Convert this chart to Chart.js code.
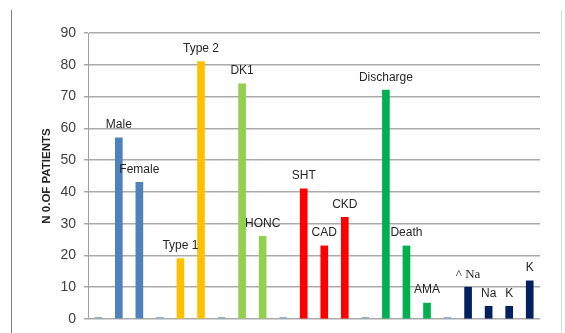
<!DOCTYPE html>
<html lang="en">
<head>
    <meta charset="UTF-8">
    <title>N 0.OF PATIENTS</title>
    <script src="https://cdn.jsdelivr.net/npm/chart.js"></script>
    <style>
        body { margin: 0; background: #fff; }
        .frame { position: relative; width: 565px; height: 333px; }
        .frame:before { content: ''; position: absolute; left: 11px; top: 10px; bottom: 0; border-left: 1px solid #7f7f7f; }
        .frame:after { content: ''; position: absolute; left: 561px; top: 10px; bottom: 0; border-left: 1px solid #d9d9d9; }
        canvas { position: absolute; left: 0; top: 0; }
    </style>
</head>
<body>
    <div class="frame">
        <canvas id="chart" width="565" height="333"></canvas>
    </div>
    <script>
        // categories (empty ones are the separators between groups)
        const categories = ['', 'Male', 'Female', '', 'Type 1', 'Type 2', '', 'DK1', 'HONC', '',
            'SHT', 'CAD', 'CKD', '', 'Discharge', 'Death', 'AMA', '', '^ Na', 'Na', 'K', 'K'];
        const patients = [0.5, 57, 43, 0.5, 19, 81, 0.5, 74, 26, 0.5,
            41, 23, 32, 0.5, 72, 23, 5, 0.5, 10, 4, 4, 12];
        const groupColors = ['#8eaad0', '#4f81bd', '#4f81bd', '#8eaad0', '#ffc000', '#ffc000', '#8eaad0', '#92d050', '#92d050', '#8eaad0',
            '#ff0000', '#ff0000', '#ff0000', '#8eaad0', '#00b050', '#00b050', '#00b050', '#8eaad0', '#002060', '#002060', '#002060', '#002060'];
        const yTicks = [0, 10, 20, 30, 40, 50, 60, 70, 80, 90];

        // names written above each bar
        const barLabels = {
            id: 'barLabels',
            afterDatasetsDraw(chart) {
                const ctx = chart.ctx;
                const meta = chart.getDatasetMeta(0);
                ctx.save();
                ctx.fillStyle = '#262626';
                ctx.textAlign = 'center';
                ctx.textBaseline = 'middle';
                meta.data.forEach((bar, i) => {
                    const name = categories[i];
                    if (!name) return;
                    ctx.font = name.startsWith('^') ? '13px "Liberation Serif"' : '12px "Liberation Sans"';
                    ctx.fillText(name, bar.x, bar.y - 13);
                });
                ctx.restore();
            }
        };

        new Chart(document.getElementById('chart'), {
            type: 'bar',
            data: {
                labels: categories,
                datasets: [{
                    data: patients,
                    backgroundColor: groupColors,
                    borderWidth: 0,
                    barThickness: 7
                }]
            },
            options: {
                responsive: false,
                animation: false,
                layout: { padding: { top: 33, right: 25, bottom: 14, left: 0 } },
                plugins: { legend: { display: false }, tooltip: { enabled: false } },
                scales: {
                    x: {
                        grid: { display: false },
                        ticks: { display: false },
                        border: { display: false },
                        afterFit(scale) { scale.height = 0; }
                    },
                    y: {
                        min: 0,
                        max: 90,
                        afterBuildTicks(scale) { scale.ticks = yTicks.map(v => ({ value: v })); },
                        afterFit(scale) {
                            scale.width = 88;
                            scale.paddingTop = 0;
                            scale.paddingBottom = 0;
                        },
                        ticks: {
                            padding: 8,
                            color: '#404040',
                            font: { family: 'Liberation Sans', size: 14 }
                        },
                        grid: { color: '#aaaaaa', lineWidth: 1.5, tickLength: 4 },
                        border: { color: '#a0a0a0', width: 1 },
                        title: {
                            display: true,
                            text: 'N 0.OF PATIENTS',
                            color: '#262626',
                            font: { family: 'Liberation Sans', size: 11.5, weight: 'bold' },
                            padding: { top: 40, bottom: 0 }
                        }
                    }
                }
            },
            plugins: [barLabels]
        });
    </script>
</body>
</html>
